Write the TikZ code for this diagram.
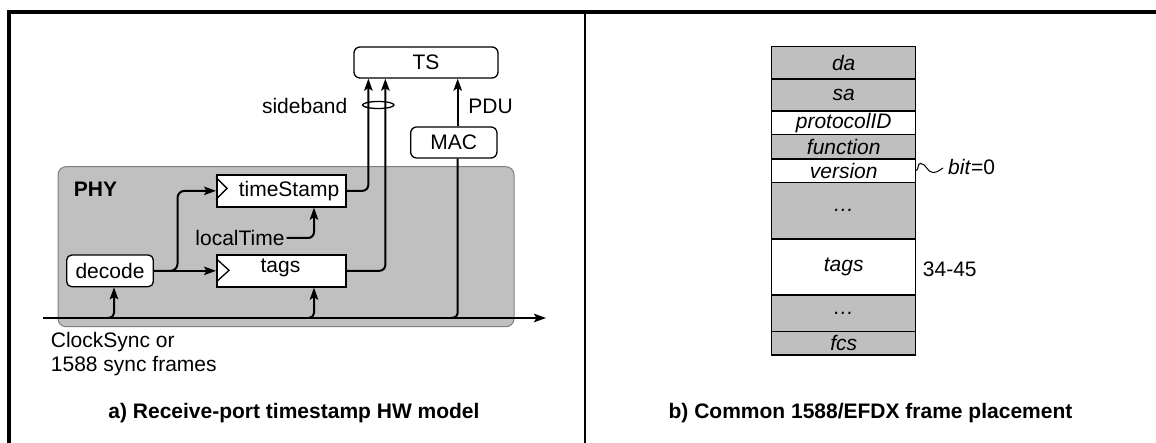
\documentclass[tikz,border=0pt]{standalone}
\usepackage{fontspec}
\setmainfont{Liberation Sans}
\usetikzlibrary{arrows.meta,calc}
\definecolor{fgrey}{HTML}{BFBFBF}
\definecolor{pgrey}{HTML}{C0C0C0}
\definecolor{pborder}{HTML}{808080}
\begin{document}
\begin{tikzpicture}[x=1pt,y=-1pt,
  txt/.style={font=\fontsize{21}{24}\selectfont, inner sep=2pt},
  rbox/.style={draw, line width=1.3pt, rounded corners=6pt, fill=white, inner sep=0pt, font=\fontsize{21}{24}\selectfont},
  sqbox/.style={draw, line width=2pt, fill=white, inner sep=0pt, minimum width=129pt, minimum height=31.7pt},
  conn/.style={line width=2pt},
  tip/.style={-{Stealth[length=12pt,width=8.5pt,inset=2.5pt]}},
  field/.style={draw, line width=1.5pt, minimum width=144pt, inner sep=0pt, font=\fontsize{21}{24}\selectfont\itshape},
  captxt/.style={font=\fontsize{21}{24}\selectfont\bfseries, inner sep=0pt},
]
\useasboundingbox (0,0) rectangle (1156,443);
% outer frame
\draw[line width=4pt] (9,443) -- (9,12) -- (1156,12);
\draw[line width=1.1pt] (585,12) -- (585,443);

% ---------- left panel ----------
\node[draw=pborder, fill=pgrey, line width=1pt, rounded corners=8pt, minimum width=456pt, minimum height=160pt, inner sep=0pt] (phy) at (286,246.7) {};
\node[txt, font=\fontsize{21}{24}\selectfont\bfseries] (phyL) at (95.5,189) {PHY};

\node[rbox, minimum width=144pt, minimum height=31pt] (TS) at (426,62.5) {TS};
\node[rbox, minimum width=86.3pt, minimum height=31pt] (MAC) at (453.8,142.5) {MAC};
\node[rbox, rounded corners=5pt, minimum width=86.6pt, minimum height=31.7pt] (decode) at (110,270.85) {decode};

\node[sqbox] (tstamp) at (281.5,190.85) {};
\node[txt] (tstampL) at (289,190.85) {timeStamp};
\draw[line width=1.3pt] ($(tstamp.west)+(0,-13.5)$) -- ($(tstamp.west)+(11,-2.5)$) -- ($(tstamp.west)+(0,8.5)$);

\node[sqbox] (tags) at (281.5,270.85) {};
\node[txt] (tagsL) at (280.5,268) {tags};
\draw[line width=1.3pt] ($(tags.west)+(1.5,-11)$) -- ($(tags.west)+(13,-0.5)$) -- ($(tags.west)+(1.5,10)$);

\node[txt] (lt) at (240,238) {localTime};
\node[txt] (sb) at (304.7,106) {sideband};
\node[txt] (pdu) at (490.5,106) {PDU};
\node[txt, align=left, anchor=west] (cs) at (48.7,354.5) {ClockSync or\\1588 sync frames};

% main line
\coordinate (L0) at (42.5,318);
\coordinate (L1) at (546,318);
\draw[conn,tip] (L0) -- (L1);

% coordinates on boxes
\coordinate (decIn) at ($(decode.south)+(4,0)$);
\coordinate (tagsIn) at ($(tags.south west)+(98,0)$);
\coordinate (tsIn) at ($(tstamp.south west)+(98,0)$);
\coordinate (macB) at ($(MAC.south)+(3.9,0)$);
\coordinate (macT) at ($(MAC.north)+(3.9,0)$);
\coordinate (TSa) at ($(TS.south west)+(15,0)$);
\coordinate (TSb) at ($(TS.south west)+(32,0)$);
\coordinate (br) at (177.5,230);
\coordinate (d0) at (107,318);
\coordinate (t0) at (308,318);
\coordinate (m0) at (451,318);

% connectors
\draw[conn,tip] (decode.east) -- (tags.west);
\draw[conn,tip,rounded corners=7pt] (decode.east) -| (br) |- (tstamp.west);
\draw[conn,tip,rounded corners=6pt] (lt.east) -| (tsIn);
\draw[conn,tip,rounded corners=5pt] (d0) -| (decIn);
\draw[conn,tip,rounded corners=5pt] (t0) -| (tagsIn);
\draw[conn,rounded corners=5pt] (m0) -| (macB);
\draw[conn,tip] (macT) -- (macT |- TS.south);
\draw[conn,tip,rounded corners=6pt] (tstamp.east) -| (TSa);
\draw[conn,tip,rounded corners=6pt] (tags.east) -| (TSb);
\draw[line width=1.3pt] (378.3,105) ellipse [x radius=15.7, y radius=3.5];

\node[captxt] (capA) at (294,413) {a) Receive-port timestamp HW model};

% ---------- right panel ----------
\node[field, fill=fgrey, minimum height=32.3pt] (da) at (843.7,62.85) {da};
\node[field, fill=fgrey, minimum height=32pt] (sa) at (843.7,95) {sa};
\node[field, fill=white, minimum height=23.3pt] (pid) at (843.7,122.65) {protocolID};
\node[field, fill=fgrey, minimum height=24.7pt] (fun) at (843.7,146.65) {function};
\node[field, fill=white, minimum height=23.3pt] (ver) at (843.7,170.65) {version};
\node[field, fill=fgrey, minimum height=56.7pt] (dots1) at (843.7,210.65) {…};
\node[field, fill=white, minimum height=56pt] (ftags) at (843.7,267) {tags};
\node[field, fill=fgrey, minimum height=36.7pt] (dots2) at (843.7,313.35) {…};
\node[field, fill=fgrey, minimum height=23.3pt] (fcs) at (843.7,343.35) {fcs};

\coordinate (sq1) at (920.5,163.5);
\coordinate (sq2) at (933,172.5);
\coordinate (sq3) at (943,168);
\draw[line width=1pt] (ver.east) to[out=40,in=180] (sq1) to[out=0,in=180] (sq2) to[out=0,in=210] (sq3);
\node[txt, anchor=west] (bit) at (946,167) {\textit{bit}=0};
\node[txt, anchor=west] (rng) at (920.7,269) {34-45};

\node[captxt] (capB) at (870.5,413) {b) Common 1588/EFDX frame placement};
\end{tikzpicture}
\end{document}
